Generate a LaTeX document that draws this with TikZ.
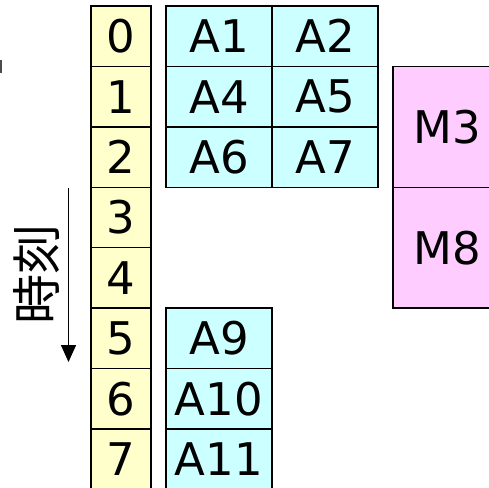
\documentclass[tikz,border=0pt]{standalone}
\usepackage{fontspec}
\setmainfont{DejaVu Sans}
\newfontfamily\jpfont{Noto Sans CJK JP}
\usetikzlibrary{arrows.meta}
\definecolor{ycol}{HTML}{FFFFCC}
\definecolor{ccol}{HTML}{CCFFFF}
\definecolor{mcol}{HTML}{FFCCFF}
\tikzset{
  cell/.style={draw=black, line width=1.5pt, inner sep=0pt, font=\fontsize{45}{45}\selectfont, text=black},
  ycell/.style={cell, fill=ycol, minimum width=60pt, minimum height=60.43pt},
  ccell/.style={cell, fill=ccol, minimum width=106pt, minimum height=60.43pt},
  mcell/.style={cell, fill=mcol, minimum width=108pt, minimum height=120.86pt},
  timearrow/.style={line width=1.5pt, -{Triangle[length=17pt,width=15pt]}}
}
\begin{document}
\begin{tikzpicture}[x=1pt,y=-1pt]
\useasboundingbox (0,0) rectangle (489,487);
\clip (0,0) rectangle (489,487);
\fill[white] (0,0) rectangle (489,487);
% yellow time column
\foreach \i in {0,...,7} {
  \node[ycell] (y\i) at (121, {36.2+60.43*\i}) {\i};
}
% cyan upper block
\node[ccell] (a1) at (219, 36.2) {A1};
\node[ccell] (a2) at (325, 36.2) {A2};
\node[ccell] (a4) at (219, 96.6) {A4};
\node[ccell] (a5) at (325, 96.6) {A5};
\node[ccell] (a6) at (219, 157.1) {A6};
\node[ccell] (a7) at (325, 157.1) {A7};
% cyan lower block
\node[ccell] (a9) at (219, 338.3) {A9};
\node[ccell] (a10) at (219, 398.7) {A10};
\node[ccell] (a11) at (219, 459.2) {A11};
% magenta block
\node[mcell] (m3) at (447, 126.9) {M3};
\node[mcell] (m8) at (447, 247.7) {M8};
% time arrow and label
\coordinate (ta) at (68.5, 188);
\coordinate (tb) at (68.5, 362);
\draw[timearrow] (ta) -- (tb);
\node[rotate=90, inner sep=0pt, font=\jpfont\fontsize{50}{50}\selectfont] (tlabel) at (37, 274) {時刻};
% clipped fragment at the left edge
\fill[black!70] (0,60) rectangle (1.6,73);
\end{tikzpicture}
\end{document}
